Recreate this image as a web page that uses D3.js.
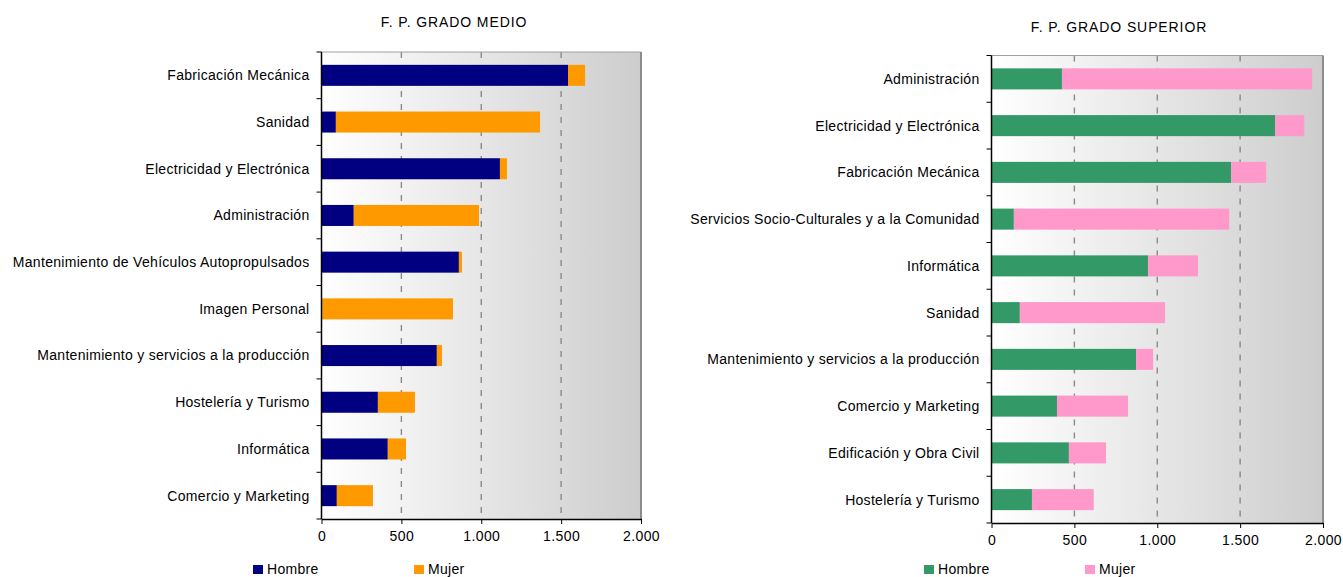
<!DOCTYPE html>
<html>
<head>
<meta charset="utf-8">
<script src="https://cdn.jsdelivr.net/npm/d3@7"></script>
<style>
	body { margin: 0; background: #fff; }
	svg { display: block; font-family: "Liberation Sans", Arial, sans-serif; }
</style>
</head>
<body>
<div id="chartDiv"></div>
<script>
; (function () {

	// F. P. Grado Medio
	var medioCategories = ["Fabricación Mecánica", "Sanidad", "Electricidad y Electrónica", "Administración",
		"Mantenimiento de Vehículos Autopropulsados", "Imagen Personal", "Mantenimiento y servicios a la producción",
		"Hostelería y Turismo", "Informática", "Comercio y Marketing"];
	var medioHombre = [1543, 90, 1117, 202, 860, 5, 722, 353, 415, 96];
	var medioMujer = [107, 1278, 44, 784, 19, 818, 32, 232, 114, 226];

	// F. P. Grado Superior
	var superiorCategories = ["Administración", "Electricidad y Electrónica", "Fabricación Mecánica",
		"Servicios Socio-Culturales y a la Comunidad", "Informática", "Sanidad",
		"Mantenimiento y servicios a la producción", "Comercio y Marketing", "Edificación y Obra Civil",
		"Hostelería y Turismo"];
	var superiorHombre = [425, 1712, 1446, 135, 944, 171, 872, 395, 467, 244];
	var superiorMujer = [1510, 175, 211, 1299, 302, 876, 103, 429, 224, 373];

	var seriesNames = ["Hombre", "Mujer"];
	var xTicks = [0, 500, 1000, 1500, 2000];

	var width = 1343;
	var height = 577;

	var locale = d3.formatLocale({ decimal: ",", thousands: ".", grouping: [3], currency: ["", " €"] });
	var fmt = locale.format(",");

	var svg = d3.select("#chartDiv").append("svg")
		.attr("width", width)
		.attr("height", height);

	var defs = svg.append("defs");
	var grad = defs.append("linearGradient")
		.attr("id", "plotBg")
		.attr("x1", "0%").attr("x2", "100%").attr("y1", "0%").attr("y2", "0%");
	grad.append("stop").attr("offset", "0%").attr("stop-color", "#ffffff");
	grad.append("stop").attr("offset", "100%").attr("stop-color", "#cdcdcd");

	drawChart({
		title: "F. P. GRADO MEDIO", titleX: 454, titleY: 27,
		left: 321.5, right: 641, top: 52, bottom: 519,
		categories: medioCategories, hombre: medioHombre, mujer: medioMujer,
		colors: ["#000080", "#ff9900"],
		legendX: [253, 414], legendY: 565
	});

	drawChart({
		title: "F. P. GRADO SUPERIOR", titleX: 1119, titleY: 32,
		left: 991.5, right: 1323, top: 55.5, bottom: 523,
		categories: superiorCategories, hombre: superiorHombre, mujer: superiorMujer,
		colors: ["#339966", "#ff99cc"],
		legendX: [924, 1085], legendY: 565
	});

	function drawChart(cfg) {

		var rows = cfg.categories.map(function (c, i) {
			return { cat: c, Hombre: cfg.hombre[i], Mujer: cfg.mujer[i] };
		});
		var stacked = d3.stack().keys(seriesNames)(rows);

		var xScale = d3.scaleLinear()
			.domain([0, 2000])
			.range([cfg.left, cfg.right]);

		var yScale = d3.scaleBand()
			.domain(cfg.categories)
			.range([cfg.top, cfg.bottom])
			.paddingInner(0.55)
			.paddingOuter(0.275);

		var g = svg.append("g");

		// plot background
		g.append("rect")
			.attr("x", cfg.left)
			.attr("y", cfg.top)
			.attr("width", cfg.right - cfg.left)
			.attr("height", cfg.bottom - cfg.top)
			.attr("fill", "url(#plotBg)");

		// gridlines
		g.selectAll(".grid")
			.data(xTicks.slice(1, -1))
			.enter().append("line")
			.attr("x1", function (d) { return xScale(d); })
			.attr("x2", function (d) { return xScale(d); })
			.attr("y1", cfg.top)
			.attr("y2", cfg.bottom)
			.attr("stroke", "#8a8a8a")
			.attr("stroke-width", 1.4)
			.attr("stroke-dasharray", "6,7");

		// plot border top / right
		g.append("line")
			.attr("x1", cfg.left).attr("x2", cfg.right)
			.attr("y1", cfg.top).attr("y2", cfg.top)
			.attr("stroke", "#a0a0a0").attr("stroke-width", 1);
		g.append("line")
			.attr("x1", cfg.right).attr("x2", cfg.right)
			.attr("y1", cfg.top).attr("y2", cfg.bottom)
			.attr("stroke", "#8c8c8c").attr("stroke-width", 2);

		// bars
		g.selectAll(".series")
			.data(stacked)
			.enter().append("g")
			.attr("fill", function (d, i) { return cfg.colors[i]; })
			.selectAll("rect")
			.data(function (d) { return d; })
			.enter().append("rect")
			.attr("x", function (d) { return xScale(d[0]); })
			.attr("width", function (d) { return xScale(d[1]) - xScale(d[0]); })
			.attr("y", function (d) { return yScale(d.data.cat); })
			.attr("height", yScale.bandwidth());

		// x axis
		var xAxis = d3.axisBottom(xScale)
			.tickValues(xTicks)
			.tickSize(5)
			.tickSizeOuter(0)
			.tickPadding(7)
			.tickFormat(function (d) { return fmt(d); });

		var xg = g.append("g")
			.attr("transform", "translate(0," + cfg.bottom + ")")
			.call(xAxis);
		xg.select(".domain").attr("stroke", "#000").attr("stroke-width", 1.5);
		xg.selectAll("text").attr("font-size", "14px").attr("fill", "#000")
			.attr("letter-spacing", "0.4px")
			.attr("font-family", "Liberation Sans, Arial, sans-serif");

		// y axis: labels centered on bands, ticks between bands
		var yg = g.append("g");
		yg.append("line")
			.attr("x1", cfg.left).attr("x2", cfg.left)
			.attr("y1", cfg.top).attr("y2", cfg.bottom)
			.attr("stroke", "#000").attr("stroke-width", 1.5);

		var step = yScale.step();
		var tickYs = d3.range(cfg.categories.length + 1).map(function (i) {
			return cfg.top + i * step;
		});
		yg.selectAll(".ytick")
			.data(tickYs)
			.enter().append("line")
			.attr("x1", cfg.left - 5).attr("x2", cfg.left)
			.attr("y1", function (d) { return d; })
			.attr("y2", function (d) { return d; })
			.attr("stroke", "#000");

		yg.selectAll(".ylabel")
			.data(cfg.categories)
			.enter().append("text")
			.attr("x", cfg.left - 12)
			.attr("y", function (d) { return yScale(d) + yScale.bandwidth() / 2; })
			.attr("dy", "0.35em")
			.attr("text-anchor", "end")
			.attr("font-size", "14px")
			.attr("letter-spacing", "0.3px")
			.attr("fill", "#000")
			.text(function (d) { return d; });

		// title
		g.append("text")
			.attr("x", cfg.titleX)
			.attr("y", cfg.titleY)
			.attr("text-anchor", "middle")
			.attr("font-size", "14px")
			.attr("letter-spacing", "0.9px")
			.attr("fill", "#000")
			.text(cfg.title);

		// legend
		var lg = g.selectAll(".legend")
			.data(seriesNames)
			.enter().append("g")
			.attr("transform", function (d, i) { return "translate(" + cfg.legendX[i] + "," + cfg.legendY + ")"; });
		lg.append("rect")
			.attr("width", 10).attr("height", 9)
			.attr("fill", function (d, i) { return cfg.colors[i]; });
		lg.append("text")
			.attr("x", 14)
			.attr("y", 9)
			.attr("font-size", "14px")
			.attr("letter-spacing", "0.3px")
			.attr("fill", "#000")
			.text(function (d) { return d; });
	}

})();
</script>
</body>
</html>
